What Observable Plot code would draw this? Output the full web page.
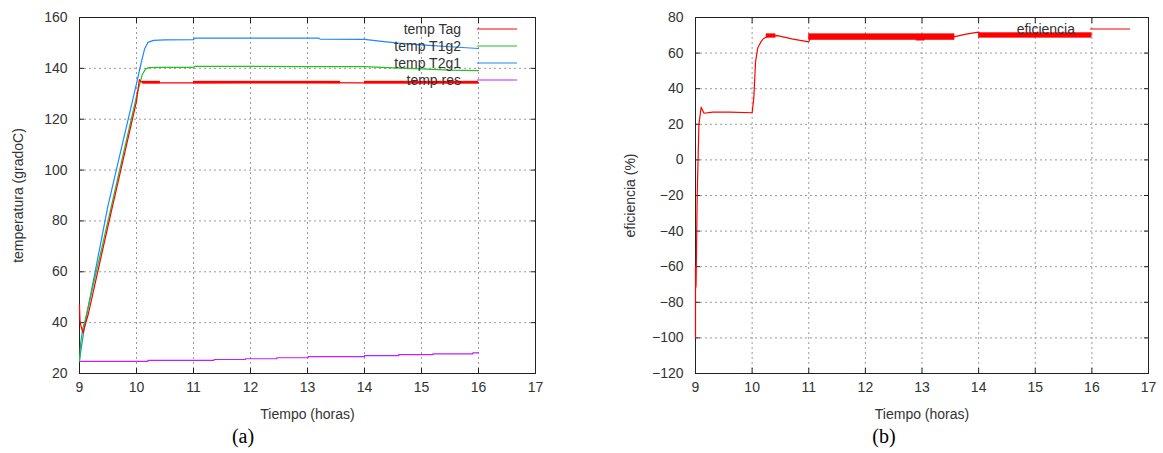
<!DOCTYPE html>
<html>
<head>
<meta charset="utf-8">
<script src="https://cdn.jsdelivr.net/npm/d3@7"></script>
<script src="https://cdn.jsdelivr.net/npm/@observablehq/plot@0.6"></script>
<style>
  html, body { margin: 0; padding: 0; background: white; }
  #wrap { position: relative; width: 1163px; height: 453px; overflow: hidden; font-family: "Liberation Sans", Arial, sans-serif; }
  .panel { position: absolute; top: 0; }
  .cap { position: absolute; font-family: "Liberation Serif", "Times New Roman", serif; font-size: 20px; color: #000; transform: translateX(-50%); }
</style>
</head>
<body>
<div id="wrap">
  <div class="panel" id="pa" style="left:0px"></div>
  <div class="panel" id="pb" style="left:582px"></div>
  <div class="cap" style="left:243px; top:425px">(a)</div>
  <div class="cap" style="left:884px; top:425px">(b)</div>
</div>
<script>
// ---------- data: panel (a) ----------
const xTicks = [9, 10, 11, 12, 13, 14, 15, 16, 17];
const yTicksA = [20, 40, 60, 80, 100, 120, 140, 160];
const yTicksB = [-120, -100, -80, -60, -40, -20, 0, 20, 40, 60, 80];

const seriesNamesA = ["temp Tag", "temp T1g2", "temp T2g1", "temp res"];
const seriesColorsA = ["#ff0000", "#22c022", "#1e88ff", "#c020ff"];

const tagX = [9.0, 9.0, 9.01, 9.06, 9.15, 9.5, 10.0, 10.05, 10.08, 10.12, 10.5, 11.0, 12.0, 13.0, 14.0, 15.0, 16.0];
const tagY = [47, 46, 40, 36, 43, 78, 127, 135.6, 134.8, 134.3, 134.3, 134.3, 134.4, 134.4, 134.3, 134.3, 134.3];
// oscillation bands of temp Tag (start, end, low, high)
const tagBandX1 = [10.1, 11.0, 14.0];
const tagBandX2 = [10.42, 13.58, 16.0];
const tagBandLo = [133.9, 133.9, 133.9];
const tagBandHi = [134.9, 134.9, 134.9];

const t1g2X = [9.0, 9.02, 9.06, 9.1, 9.5, 10.0, 10.1, 10.16, 10.22, 10.4, 11.0, 11.03, 12.0, 13.0, 14.0, 14.5, 15.0, 15.5, 16.0];
const t1g2Y = [25, 32, 38, 41, 80, 129, 137.5, 139.8, 140.3, 140.4, 140.4, 140.8, 140.8, 140.7, 140.7, 140.2, 139.8, 139.3, 139.1];

const t2g1X = [9.0, 9.03, 9.1, 9.5, 10.0, 10.08, 10.14, 10.2, 10.3, 10.5, 11.0, 11.02, 12.0, 13.2, 13.22, 14.0, 14.3, 14.6, 15.0, 15.5, 16.0];
const t2g1Y = [25, 30, 40, 86, 134, 142, 147.5, 150.2, 151.0, 151.2, 151.3, 151.9, 151.9, 151.9, 151.5, 151.4, 150.6, 149.9, 149.2, 148.5, 147.8];

const resX = [9.0, 10.2, 11.36, 11.91, 12.46, 13.01, 14.0, 14.6, 15.2, 15.9, 16.0];
const resY = [24.8, 25.2, 25.5, 25.8, 26.2, 26.6, 27.0, 27.4, 27.7, 28.1, 28.1];

// ---------- data: panel (b) ----------
const effName = "eficiencia";
const effColor = "#ff0000";
const effX = [9.0, 9.0, 9.005, 9.01, 9.03, 9.06, 9.1, 9.15, 9.3, 9.6, 10.0, 10.03, 10.06, 10.1, 10.15, 10.2, 10.3, 10.45, 10.7, 11.0, 11.03, 12.0, 13.0, 13.58, 13.8, 14.0, 14.03, 15.0, 16.0];
const effY = [-100, -60, -72, -70, -20, 20, 29.6, 26.2, 26.8, 26.8, 26.5, 35, 55, 63, 66, 68.2, 69.6, 69.8, 68.0, 66.3, 68.5, 69.2, 69.2, 69.3, 70.8, 71.8, 70.2, 70.2, 70.3];
// oscillation bands of eficiencia (start, end, low, high)
const effBandX1 = [10.25, 11.0, 12.9, 14.0];
const effBandX2 = [10.42, 13.58, 13.05, 16.0];
const effBandLo = [68.4, 67.2, 66.8, 68.4];
const effBandHi = [70.8, 70.8, 70.4, 71.4];

// ---------- helpers ----------
const FONT = "Liberation Sans, Arial, sans-serif";
const pts = (xs, ys) => xs.map((x, i) => ({x, y: ys[i]}));
const bands = (x1, x2, lo, hi) => x1.map((a, i) => ({x1: a, x2: x2[i], lo: lo[i], hi: hi[i]}));

function frameMarks(yTicks, yLabel, yLabelOffset) {
  return [
    Plot.gridX(xTicks, {stroke: "#9a9a9a", strokeOpacity: 1, strokeDasharray: "2,3"}),
    Plot.gridY(yTicks, {stroke: "#9a9a9a", strokeOpacity: 1, strokeDasharray: "2,3"}),
    Plot.frame({stroke: "#222", strokeWidth: 1}),
    Plot.axisX(xTicks, {anchor: "bottom", tickSize: 0, tickPadding: 9, label: "Tiempo (horas)", labelAnchor: "center", labelArrow: "none", labelOffset: 45, fill: "#333"}),
    Plot.axisX(xTicks, {anchor: "bottom", tickSize: -5, fill: "none", label: null, stroke: "#222"}),
    Plot.axisX(xTicks, {anchor: "top", tickSize: -5, fill: "none", label: null, stroke: "#222"}),
    Plot.axisY(yTicks, {anchor: "left", tickSize: 0, tickPadding: 12, label: yLabel, labelAnchor: "center", labelArrow: "none", labelOffset: yLabelOffset, fill: "#333"}),
    Plot.axisY(yTicks, {anchor: "left", tickSize: -5, fill: "none", label: null, stroke: "#222"}),
    Plot.axisY(yTicks, {anchor: "right", tickSize: -5, fill: "none", label: null, stroke: "#222"})
  ];
}

function addLegend(svg, names, colors, textRight, lineX1, lineX2, yStart, step) {
  const g = d3.select(svg).append("g").attr("font-family", FONT).attr("font-size", 14);
  names.forEach((n, i) => {
    const y = yStart + i * step;
    g.append("text").attr("x", textRight).attr("y", y).attr("text-anchor", "end")
      .attr("dy", "0.35em").attr("fill", "#333").text(n);
    g.append("line").attr("x1", lineX1).attr("x2", lineX2).attr("y1", y).attr("y2", y)
      .attr("stroke", colors[i]).attr("stroke-width", 1.2);
  });
}

// ---------- panel (a) ----------
const plotA = Plot.plot({
  width: 582, height: 453,
  marginLeft: 79, marginRight: 47, marginTop: 17, marginBottom: 80,
  style: {fontFamily: FONT, fontSize: "14px", background: "white", color: "#333"},
  x: {domain: [9, 17]},
  y: {domain: [20, 160]},
  marks: [
    ...frameMarks(yTicksA, "temperatura (gradoC)", 66),
    Plot.line(pts(resX, resY), {x: "x", y: "y", curve: "step-after", stroke: seriesColorsA[3], strokeWidth: 1.2}),
    Plot.line(pts(t2g1X, t2g1Y), {x: "x", y: "y", stroke: seriesColorsA[2], strokeWidth: 1.2}),
    Plot.line(pts(t1g2X, t1g2Y), {x: "x", y: "y", stroke: seriesColorsA[1], strokeWidth: 1.2}),
    Plot.line(pts(tagX, tagY), {x: "x", y: "y", stroke: seriesColorsA[0], strokeWidth: 1.2}),
    Plot.rect(bands(tagBandX1, tagBandX2, tagBandLo, tagBandHi), {x1: "x1", x2: "x2", y1: "lo", y2: "hi", fill: seriesColorsA[0]})
  ]
});
document.getElementById("pa").appendChild(plotA);
addLegend(plotA, seriesNamesA, seriesColorsA, 461, 477, 517, 29, 17);

// ---------- panel (b) ----------
const plotB = Plot.plot({
  width: 581, height: 453,
  marginLeft: 113, marginRight: 15, marginTop: 17, marginBottom: 80,
  style: {fontFamily: FONT, fontSize: "14px", background: "white", color: "#333"},
  x: {domain: [9, 17]},
  y: {domain: [-120, 80]},
  marks: [
    ...frameMarks(yTicksB, "eficiencia (%)", 70),
    Plot.line(pts(effX, effY), {x: "x", y: "y", stroke: effColor, strokeWidth: 1.2}),
    Plot.rect(bands(effBandX1, effBandX2, effBandLo, effBandHi), {x1: "x1", x2: "x2", y1: "lo", y2: "hi", fill: effColor})
  ]
});
document.getElementById("pb").appendChild(plotB);
addLegend(plotB, [effName], [effColor], 1075 - 582, 1090 - 582, 1130 - 582, 29, 17);
</script>
</body>
</html>
